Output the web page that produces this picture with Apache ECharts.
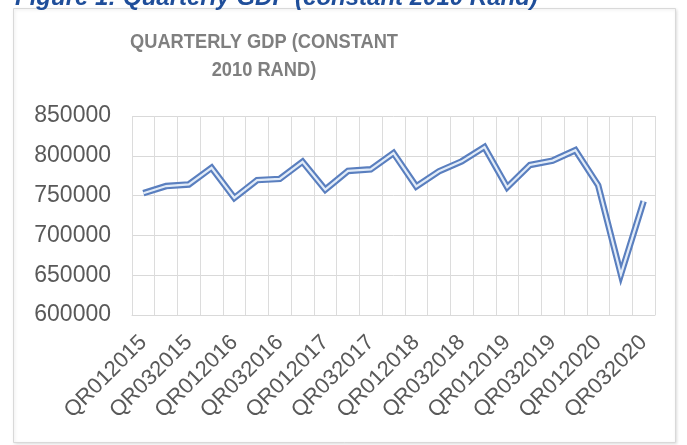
<!DOCTYPE html>
<html>
<head>
<meta charset="utf-8">
<style>
  html, body { margin: 0; padding: 0; background: #ffffff; }
  #chart { width: 687px; height: 445px; }
</style>
<script src="https://cdn.jsdelivr.net/npm/echarts@6/dist/echarts.min.js"></script>
</head>
<body>
<div id="chart"></div>
<script>
// Quarter labels, Q1 2015 through Q3 2020
const quarters = [
  'QR012015', 'QR022015', 'QR032015', 'QR042015',
  'QR012016', 'QR022016', 'QR032016', 'QR042016',
  'QR012017', 'QR022017', 'QR032017', 'QR042017',
  'QR012018', 'QR022018', 'QR032018', 'QR042018',
  'QR012019', 'QR022019', 'QR032019', 'QR042019',
  'QR012020', 'QR022020', 'QR032020'
];

// Real GDP per quarter, constant 2010 rand (millions)
const gdp = [
  753000, 762000, 764000, 785000,
  747000, 769500, 771000, 792500,
  757500, 781000, 783000, 803500,
  761500, 780500, 793000, 811000,
  760500, 788500, 794000, 807000,
  763000, 651000, 743000
];

// Value axis range and step
const yMin = 600000;
const yMax = 850000;
const yStep = 50000;

const captionText = 'Figure 1: Quarterly GDP (constant 2010 Rand)';
const chartTitle = 'QUARTERLY GDP (CONSTANT\n2010 RAND)';

const chart = echarts.init(document.getElementById('chart'), null, { renderer: 'canvas' });

chart.setOption({
  backgroundColor: '#ffffff',
  animation: false,
  graphic: [
    {
      type: 'rect',
      shape: { x: 13.5, y: 8.5, width: 662, height: 434 },
      style: { fill: '#ffffff', stroke: '#d9d9d9', lineWidth: 1,
               shadowColor: 'rgba(0,0,0,0.12)', shadowBlur: 3, shadowOffsetX: 1, shadowOffsetY: 1 },
      z: -10
    },
    {
      type: 'text',
      left: 15,
      top: -14,
      style: {
        text: captionText,
        fill: '#1f4e9a',
        font: 'italic bold 24px "Liberation Sans", Arial, sans-serif'
      },
      z: 10
    },
    {
      // chart heading, set in a condensed bold face
      type: 'text',
      x: 264,
      y: 28,
      scaleX: 0.87,
      style: {
        text: chartTitle,
        fill: '#7f7f7f',
        font: 'bold 21px "Liberation Sans", Arial, sans-serif',
        textAlign: 'center',
        textVerticalAlign: 'top',
        lineHeight: 28
      },
      z: 10
    }
  ],
  grid: {
    left: 132,
    right: 32,
    top: 116,
    bottom: 130,
    containLabel: false
  },
  xAxis: {
    type: 'category',
    data: quarters,
    boundaryGap: true,
    axisLine: { show: true, lineStyle: { color: '#d9d9d9', width: 1 } },
    axisTick: { show: false },
    splitLine: { show: true, interval: 0, lineStyle: { color: '#dcdcdc', width: 1 } },
    axisLabel: {
      interval: 1,
      rotate: 45,
      margin: 24,
      color: '#595959',
      fontSize: 22,
      fontFamily: '"Liberation Sans", Arial, sans-serif'
    }
  },
  yAxis: {
    type: 'value',
    min: yMin,
    max: yMax,
    interval: yStep,
    axisLine: { show: false },
    axisTick: { show: false },
    splitLine: { show: true, lineStyle: { color: '#d9d9d9', width: 1 } },
    axisLabel: {
      margin: 21,
      color: '#595959',
      fontSize: 23,
      fontFamily: '"Liberation Sans", Arial, sans-serif',
      formatter: function (v) { return String(v); }
    }
  },
  series: [
    {
      // outer stroke of the double line
      type: 'line',
      data: gdp,
      symbol: 'none',
      lineStyle: { color: '#5a7fbf', width: 6.5, join: 'miter', cap: 'butt' },
      z: 2
    },
    {
      // inner light stroke of the double line
      type: 'line',
      data: gdp,
      symbol: 'none',
      lineStyle: { color: '#e2ecf8', width: 2.2, join: 'miter', cap: 'butt' },
      z: 3
    }
  ]
});
</script>
</body>
</html>
